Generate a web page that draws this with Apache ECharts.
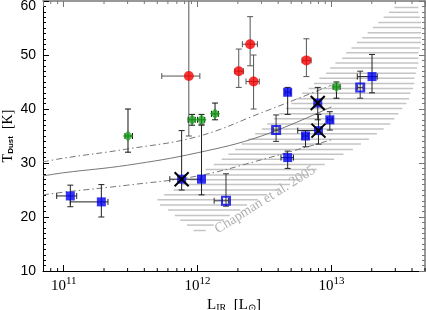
<!DOCTYPE html>
<html><head><meta charset="utf-8">
<script src="https://cdn.jsdelivr.net/npm/echarts@6/dist/echarts.min.js"></script>
<style>html,body{margin:0;padding:0;background:#fff}#c{width:426px;height:310px}</style>
</head><body><div id="c"></div>
<script>
// ---- data ----
// rows: [L_IR, T, L_lo, L_hi, T_lo, T_hi]
var redPts = [
  [8.6e11, 46.1, 5.4e11, 1.04e12, 35.0, 70],
  [2.47e12, 52.0, 2.16e12, 2.8e12, 48.0, 57.1],
  [2.03e12, 47.0, 1.9e12, 2.2e12, 44.0, 51.1],
  [2.62e12, 45.1, 2.3e12, 2.89e12, 40.0, 50.0],
  [6.5e12, 49.0, 6.04e12, 7.05e12, 46.0, 53.0]
];
var greenPts = [
  [3.02e11, 35.0, 2.87e11, 3.26e11, 32.0, 40.0],
  [9.1e11, 38.0, 8.5e11, 9.6e11, 37.0, 39.0],
  [1.07e12, 38.0, 1.0e12, 1.13e12, 37.0, 39.0],
  [1.35e12, 39.1, 1.27e12, 1.43e12, 38.0, 41.1],
  [1.09e13, 44.1, 1.03e13, 1.16e13, 42.0, 45.0]
];
var blueFilledPts = [
  [1.12e11, 23.9, 8.86e10, 1.25e11, 21.9, 25.9],
  [1.91e11, 22.8, 1.12e11, 2.14e11, 20.0, 26.0],
  [7.6e11, 27.0, 6.2e11, 1.06e12, 25.0, 36.0],
  [1.07e12, 27.0, 1.07e12, 1.07e12, 24.1, 37.2],
  [4.71e12, 43.1, 4.5e12, 4.95e12, 39.0, 44.0],
  [7.9e12, 41.1, 7.9e12, 7.9e12, 38.0, 44.0],
  [8.0e12, 36.0, 5.6e12, 8.0e12, 33.5, 39.0],
  [9.73e12, 38.0, 9.3e12, 1.02e13, 36.1, 39.5],
  [6.4e12, 35.0, 6.1e12, 6.7e12, 33.0, 36.0],
  [2.01e13, 46.0, 1.56e13, 2.2e13, 43.0, 50.1],
  [4.71e12, 31.0, 4.2e12, 5.2e12, 29.0, 32.2]
];
var blueOpenPts = [
  [3.86e12, 36.1, 3.7e12, 4.0e12, 34.0, 38.9],
  [1.64e13, 44.0, 1.57e13, 1.72e13, 42.0, 47.0],
  [1.63e12, 23.0, 1.33e12, 1.7e12, 22.0, 28.0]
];
var crossPts = [[7.6e11, 27.0], [7.9e12, 41.1], [8.0e12, 36.0]];

// model curves
var curveL  = [7e10, 1e11, 3e11, 1e12, 3e12, 1e13];
var medianT = [27.6, 28.2, 29.6, 31.9, 35.0, 40.4];
var upperT  = [30.2, 30.9, 32.6, 34.9, 39.3, 44.4];
var lowerT  = [24.1, 24.6, 25.9, 27.6, 30.6, 34.3];

// Chapman et al. 2005 band: hatch rows at temperature T, from log10 L_left to log10 L_right
var hatchT = [58.8,57.9,57.0,56.0,55.1,54.1,53.2,52.3,51.3,50.4,49.4,48.5,47.6,46.6,45.7,44.7,43.8,42.9,41.9,41.0,40.1,39.1,38.2,37.2,36.3,35.4,34.4,33.5,32.5,31.6,30.7,29.7,28.8,27.8,26.9,26.0,25.0,24.1,23.2,22.2,21.3,20.3,19.4,18.5,17.5];
var hatchLogLeft = [13.47,13.43,13.39,13.35,13.31,13.27,13.23,13.19,13.15,13.11,13.08,13.03,12.99,12.96,12.91,12.87,12.83,12.78,12.74,12.70,12.66,12.61,12.57,12.52,12.48,12.43,12.38,12.33,12.28,12.23,12.18,12.12,12.06,12.00,11.94,11.88,11.82,11.75,11.70,11.72,11.78,11.83,11.87,11.92,11.97];
var hatchLogRight = [13.65,13.65,13.66,13.67,13.67,13.67,13.67,13.67,13.66,13.65,13.65,13.65,13.64,13.63,13.62,13.62,13.61,13.59,13.58,13.56,13.53,13.50,13.47,13.44,13.39,13.34,13.28,13.22,13.16,13.09,13.02,12.95,12.89,12.83,12.77,12.69,12.61,12.52,12.45,12.37,12.32,12.24,12.18,12.12,12.06];
var chapmanLabel = {text: 'Chapman et al. 2005', L: 3.2e12, T: 23.2};

var xMinor = [8e10, 9e10, 2e11, 3e11, 4e11, 5e11, 6e11, 7e11, 8e11, 9e11, 2e12, 3e12, 4e12, 5e12, 6e12, 7e12, 8e12, 9e12, 2e13, 3e13, 4e13, 5e13];

// ---- chart ----
var chart = echarts.init(document.getElementById('c'), null, {renderer: 'canvas'});

function errRender(color) {
  return function (params, api) {
    var c = api.coord([api.value(0), api.value(1)]);
    var xl = api.coord([api.value(2), api.value(1)]);
    var xh = api.coord([api.value(3), api.value(1)]);
    var yl = api.coord([api.value(0), api.value(4)]);
    var yh = api.coord([api.value(0), api.value(5)]);
    var cap = 3;
    var st = {stroke: color, lineWidth: 1};
    var ch = [];
    ch.push({type: 'line', shape: {x1: c[0], y1: yl[1], x2: c[0], y2: yh[1]}, style: st});
    ch.push({type: 'line', shape: {x1: c[0]-cap, y1: yl[1], x2: c[0]+cap, y2: yl[1]}, style: st});
    ch.push({type: 'line', shape: {x1: c[0]-cap, y1: yh[1], x2: c[0]+cap, y2: yh[1]}, style: st});
    if (Math.abs(xh[0]-xl[0]) > 0.5) {
      ch.push({type: 'line', shape: {x1: xl[0], y1: c[1], x2: xh[0], y2: c[1]}, style: st});
      ch.push({type: 'line', shape: {x1: xl[0], y1: c[1]-cap, x2: xl[0], y2: c[1]+cap}, style: st});
      ch.push({type: 'line', shape: {x1: xh[0], y1: c[1]-cap, x2: xh[0], y2: c[1]+cap}, style: st});
    }
    return {type: 'group', children: ch};
  };
}
function errSeries(data, color) {
  return {type: 'custom', data: data, renderItem: errRender(color), clip: true, z: 3, silent: true,
    encode: {x: [0, 2, 3], y: [1, 4, 5]}};
}
function curve(T) { return curveL.map(function (l, i) { return [l, T[i]]; }); }

var hatchData = hatchT.map(function (t, i) {
  return [t, Math.pow(10, hatchLogLeft[i]), Math.pow(10, hatchLogRight[i])];
});

var serifFont = 'Liberation Serif';
var option = {
  animation: false,
  backgroundColor: '#fff',
  grid: {left: 43, right: 1, top: 1, bottom: 39, containLabel: false, outerBoundsMode: 'none'},
  xAxis: [{
    type: 'log', logBase: 10, min: 7e10, max: 5e13, position: 'bottom',
    axisLine: {lineStyle: {color: '#000', width: 1}},
    axisTick: {inside: true, length: 6, lineStyle: {color: '#000'}},
    splitLine: {show: false},
    axisLabel: {
      showMinLabel: false, showMaxLabel: false, margin: 5, hideOverlap: false,
      formatter: function (v) {
        var e = Math.log10(v), r = Math.round(e);
        if (Math.abs(e - r) > 1e-6) return '';
        return '{b|10}{s|' + r + '}';
      },
      rich: {
        b: {fontFamily: serifFont, fontSize: 15, color: '#000', verticalAlign: 'bottom', lineHeight: 18},
        s: {fontFamily: serifFont, fontSize: 11, color: '#000', verticalAlign: 'top', lineHeight: 18}
      }
    },
    name: '{n|L}{sub|IR}{n|  [L}{sub|⊙}{n|]}', nameLocation: 'middle', nameGap: 25, nameMoveOverlap: false,
    nameTextStyle: {
      rich: {
        n: {fontFamily: serifFont, fontSize: 15, color: '#000', verticalAlign: 'bottom', lineHeight: 17},
        sub: {fontFamily: serifFont, fontSize: 10, color: '#000', verticalAlign: 'bottom', lineHeight: 13}
      }
    }
  }, {
    type: 'log', logBase: 10, min: 7e10, max: 5e13, position: 'top',
    axisLine: {lineStyle: {color: '#777', width: 1.5}},
    axisTick: {inside: true, length: 6, lineStyle: {color: '#777'}},
    axisLabel: {show: false}, splitLine: {show: false}
  }],
  yAxis: [{
    type: 'value', min: 10, max: 60, interval: 10, position: 'left',
    axisLine: {show: true, lineStyle: {color: '#000', width: 1}},
    axisTick: {show: true, inside: true, length: 6, lineStyle: {color: '#000'}},
    minorTick: {show: true, splitNumber: 10, length: 3, lineStyle: {color: '#000'}},
    splitLine: {show: false},
    axisLabel: {
      margin: 7, hideOverlap: false,
      formatter: function (v) { return v === 60 ? '{t|' + v + '}' : '{n|' + v + '}'; },
      rich: {
        n: {fontFamily: 'Liberation Sans', fontSize: 14, color: '#000'},
        t: {fontFamily: 'Liberation Sans', fontSize: 14, color: '#000', padding: [10, 0, 0, 0]}
      }
    },
    name: '{n|T}{sub|Dust}{n|  [K]}', nameLocation: 'middle', nameGap: 28, nameRotate: 90, nameMoveOverlap: false,
    nameTextStyle: {
      rich: {
        n: {fontFamily: serifFont, fontSize: 14, color: '#000', verticalAlign: 'bottom', lineHeight: 16},
        sub: {fontFamily: 'Liberation Sans', fontSize: 8, fontWeight: 'bold', color: '#000', verticalAlign: 'bottom', lineHeight: 11}
      }
    }
  }, {
    type: 'value', min: 10, max: 60, interval: 10, position: 'right',
    axisLine: {show: true, lineStyle: {color: '#777', width: 1.5}},
    axisTick: {show: true, inside: true, length: 6, lineStyle: {color: '#777'}},
    minorTick: {show: true, splitNumber: 10, length: 3, lineStyle: {color: '#777'}},
    splitLine: {show: false}, axisLabel: {show: false}
  }],
  series: [
    { // hatch band
      type: 'custom', z: 1, silent: true, clip: true,
      data: hatchData, encode: {x: [1, 2], y: 0},
      renderItem: function (params, api) {
        var a = api.coord([api.value(1), api.value(0)]);
        var b = api.coord([api.value(2), api.value(0)]);
        return {type: 'line', shape: {x1: a[0], y1: a[1], x2: b[0], y2: b[1]},
          style: {stroke: '#c4c4c4', lineWidth: 1.5}};
      }
    },
    { // label of band
      type: 'custom', z: 2, silent: true,
      data: [[chapmanLabel.L, chapmanLabel.T]],
      renderItem: function (params, api) {
        var p = api.coord([api.value(0), api.value(1)]);
        return {type: 'text', x: p[0], y: p[1], rotation: 32 * Math.PI / 180,
          style: {text: chapmanLabel.text, fill: '#b0b0b0', font: '14px "Liberation Serif"',
            align: 'center', verticalAlign: 'middle'}};
      }
    },
    { // x minor ticks (bottom and top)
      type: 'custom', z: 6, silent: true, xAxisIndex: 0, yAxisIndex: 0,
      data: xMinor.map(function (v) { return [v, 10]; }),
      renderItem: function (params, api) {
        var b = api.coord([api.value(0), 10]);
        var t = api.coord([api.value(0), 60]);
        return {type: 'group', children: [
          {type: 'line', shape: {x1: b[0], y1: b[1], x2: b[0], y2: b[1] - 3}, style: {stroke: '#000', lineWidth: 1}},
          {type: 'line', shape: {x1: t[0], y1: t[1], x2: t[0], y2: t[1] + 3}, style: {stroke: '#777', lineWidth: 1}}
        ]};
      }
    },
    {type: 'line', data: curve(medianT), smooth: 0.4, showSymbol: false, z: 2, silent: true,
      lineStyle: {color: '#777', width: 1}},
    {type: 'line', data: curve(upperT), smooth: 0.4, showSymbol: false, z: 2, silent: true,
      lineStyle: {color: '#777', width: 1, type: [6, 3, 1.5, 3]}},
    {type: 'line', data: curve(lowerT), smooth: 0.4, showSymbol: false, z: 2, silent: true,
      lineStyle: {color: '#777', width: 1, type: [6, 3, 1.5, 3]}},
    errSeries(redPts, '#555'),
    errSeries(greenPts, '#111'),
    errSeries(blueFilledPts, '#222'),
    errSeries(blueOpenPts, '#333'),
    {type: 'scatter', z: 4, symbol: 'circle', symbolSize: 10, silent: true,
      data: redPts.map(function (r) { return [r[0], r[1]]; }),
      itemStyle: {color: '#f50000'}},
    {type: 'scatter', z: 4, symbol: 'diamond', symbolSize: [10, 11], silent: true,
      data: greenPts.map(function (r) { return [r[0], r[1]]; }),
      itemStyle: {color: '#18a018'}},
    {type: 'scatter', z: 4, symbol: 'rect', symbolSize: 9, silent: true,
      data: blueFilledPts.map(function (r) { return [r[0], r[1]]; }),
      itemStyle: {color: '#0000f0'}},
    {type: 'scatter', z: 4, symbol: 'rect', symbolSize: 8, silent: true,
      data: blueOpenPts.map(function (r) { return [r[0], r[1]]; }),
      itemStyle: {color: 'rgba(255,255,255,0)', borderColor: '#0000f0', borderWidth: 2}},
    { // crosses
      type: 'custom', z: 5, silent: true, data: crossPts,
      renderItem: function (params, api) {
        var p = api.coord([api.value(0), api.value(1)]);
        var h = 7, st = {stroke: '#000', lineWidth: 2};
        return {type: 'group', children: [
          {type: 'line', shape: {x1: p[0]-h, y1: p[1]-h, x2: p[0]+h, y2: p[1]+h}, style: st},
          {type: 'line', shape: {x1: p[0]-h, y1: p[1]+h, x2: p[0]+h, y2: p[1]-h}, style: st}
        ]};
      }
    }
  ]
};
chart.setOption(option);
</script></body></html>
